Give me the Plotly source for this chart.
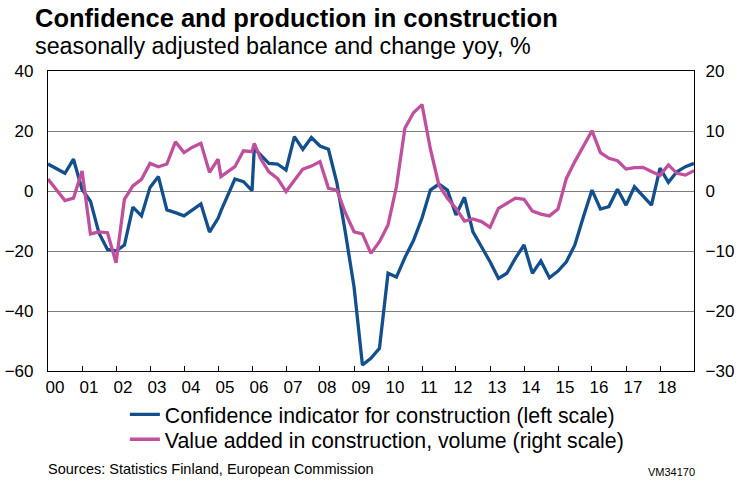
"""
Confidence and production in construction (Finland), two-scale line chart.
"""
import pandas as pd
import plotly.graph_objects as go

# quarterly observations 2000Q1..2019Q1, plus two extra points where the series were spliced
dates = list(pd.date_range("2000-01-01", "2019-01-01", freq="QS").strftime("%Y-%m-%d"))
dates.insert(21, "2005-02-01")
dates.insert(26, "2006-01-25")

# confidence indicator, balance (left scale)
confidence = [
    9.0, 7.5, 5.9, 10.6, 0.5, -3.4, -14.0, -19.5, -20.0, -18.0,
    -5.4, -8.3, 1.2, 4.8, -6.3, -7.2, -8.3, -6.3, -4.3, -13.7,
    -9.1, -6.6, -2.4, 4.0, 3.1, 0.1, 14.2, 12.0, 9.2, 9.0,
    7.0, 18.1, 13.9, 17.8, 15.0, 13.9, 2.6, -14.1, -32.0, -58.0,
    -55.8, -52.4, -27.4, -28.7, -22.2, -16.5, -9.0, 0.3, 2.3, 0.3,
    -8.0, -2.1, -13.6, -18.6, -23.6, -29.1, -27.4, -22.4, -18.0, -27.4,
    -23.3, -28.9, -26.7, -23.6, -18.0, -8.6, 0.3, -6.0, -5.2, 0.6,
    -4.7, 1.4, -1.6, -4.7, 7.6, 2.9, 6.4, 8.1, 9.2,
]

# value added in construction, volume change yoy % (right scale)
value_added = [
    2.0, 0.2, -1.6, -1.2, 3.35, -7.15, -6.8, -6.95, -11.95, -1.4,
    0.85, 1.95, 4.6, 4.05, 4.5, 8.2, 6.4, 7.3, 7.95, 3.1,
    5.3, 2.4, 3.1, 4.05, 6.7, 6.55, 7.95, 5.45, 3.2, 2.1,
    -0.1, 1.8, 3.65, 4.15, 4.9, 0.45, 0.15, -3.7, -6.8, -7.15,
    -10.4, -8.45, -5.65, 0.7, 10.45, 13.05, 14.4, 7.0, 1.0, -1.2,
    -2.9, -5.0, -4.65, -5.1, -6.05, -2.9, -2.05, -1.2, -1.4, -3.35,
    -3.85, -4.15, -3.0, 2.1, 4.9, 7.4, 10.05, 6.4, 5.45, 5.05,
    3.65, 3.9, 3.95, 3.25, 2.6, 4.35, 2.95, 2.65, 3.4,
]

year_ticks = [f"{y}-01-01" for y in range(2000, 2019)]
year_labels = [f"{y % 100:02d}" for y in range(2000, 2019)]

FONT = "Liberation Sans, Arial, sans-serif"
BLUE = "#134f8c"
PINK = "#c04f9d"

fig = go.Figure()
fig.add_trace(go.Scatter(
    x=dates, y=confidence, mode="lines", legend="legend",
    name="Confidence indicator for construction (left scale)",
    line=dict(color=BLUE, width=3.3),
))
fig.add_trace(go.Scatter(
    x=dates, y=value_added, mode="lines", yaxis="y2", legend="legend2",
    name="Value added in construction, volume (right scale)",
    line=dict(color=PINK, width=3.3),
))

legend_style = dict(
    xanchor="left", yanchor="middle",
    font=dict(size=21.3), bgcolor="rgba(0,0,0,0)", itemwidth=30,
)

fig.update_layout(
    width=738, height=482,
    margin=dict(l=48, r=44, t=71, b=111),
    paper_bgcolor="white", plot_bgcolor="white",
    font=dict(family=FONT, size=17, color="black"),
    showlegend=True,
    legend=dict(x=0.119, y=-0.145, **legend_style),
    legend2=dict(x=0.119, y=-0.228, **legend_style),
    xaxis=dict(
        type="date", range=["2000-01-01", "2019-01-01"],
        tickvals=year_ticks, ticktext=year_labels,
        ticks="inside", ticklen=5, tickcolor="black", tickwidth=1,
        ticklabelshift=7, automargin=False,
        showgrid=False, zeroline=False,
        showline=True, mirror=True, linecolor="black", linewidth=1.2,
    ),
    yaxis=dict(
        range=[-60, 40], dtick=20, tick0=0,
        showgrid=True, gridcolor="#7d7d7d", gridwidth=1.3,
        zeroline=False, ticks="", automargin=False,
        showline=True, mirror=True, linecolor="black", linewidth=1.2,
        ticklabelstandoff=10,
    ),
    yaxis2=dict(
        range=[-30, 20], dtick=10, tick0=0,
        overlaying="y", side="right", automargin=False,
        showgrid=False, zeroline=False, ticks="",
        showline=True, linecolor="black", linewidth=1.2,
        ticklabelstandoff=7,
    ),
)

fig.add_annotation(
    text="<b>Confidence and production in construction</b>",
    xref="paper", yref="paper", x=-0.023, y=1.176,
    xanchor="left", yanchor="middle", showarrow=False,
    font=dict(size=25.5, family=FONT),
)
fig.add_annotation(
    text="seasonally adjusted balance and change yoy, %",
    xref="paper", yref="paper", x=-0.023, y=1.085,
    xanchor="left", yanchor="middle", showarrow=False,
    font=dict(size=23.3, family=FONT),
)
fig.add_annotation(
    text="Sources: Statistics Finland, European Commission",
    xref="paper", yref="paper", x=-0.003, y=-0.325,
    xanchor="left", yanchor="middle", showarrow=False,
    font=dict(size=14.5, family=FONT),
)
fig.add_annotation(
    text="VM34170",
    xref="paper", yref="paper", x=1.005, y=-0.335,
    xanchor="right", yanchor="middle", showarrow=False,
    font=dict(size=11, family=FONT),
)

fig.write_html(
    "out.html",
    config={"displayModeBar": False},
    post_script="document.body.style.margin='0px';",
)
